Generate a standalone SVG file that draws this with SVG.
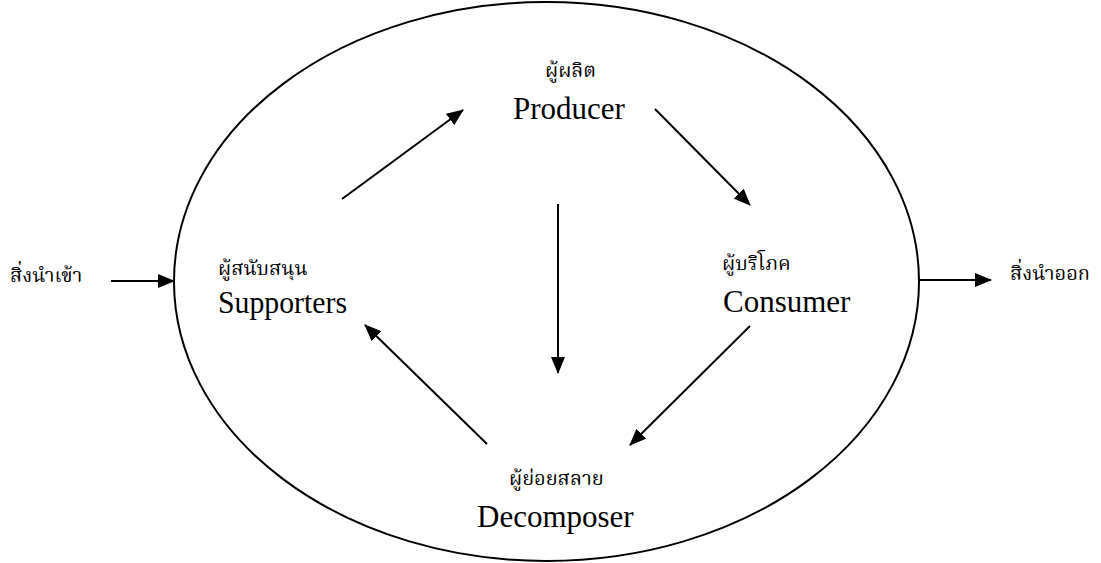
<svg xmlns="http://www.w3.org/2000/svg" width="1101" height="563" viewBox="0 0 1101 563">
<defs>
<marker id="ah" markerWidth="17" markerHeight="14" refX="16" refY="7" orient="auto" markerUnits="userSpaceOnUse">
<path d="M0,0 L17,7 L0,14 Z" fill="#000"/>
</marker>
<style>
.en{font-family:"Liberation Serif","Times New Roman",serif;font-size:31px;fill:#000}
.th{font-family:"Liberation Serif","Noto Serif Thai","Noto Sans Thai",serif;font-size:20px;fill:#000}
.ln{stroke:#000;stroke-width:2;fill:none;marker-end:url(#ah)}
</style>
</defs>
<rect width="1101" height="563" fill="#fff"/>
<g id="system">
<ellipse cx="546.5" cy="281.5" rx="372.5" ry="279.5" fill="none" stroke="#000" stroke-width="2"/>
</g>
<g id="producer">
<text class="th" x="545" y="77">ผู้ผลิต</text>
<text class="en" x="513" y="119">Producer</text>
</g>
<g id="supporters">
<text class="th" x="218" y="275">ผู้สนับสนุน</text>
<text class="en" x="218" y="313" textLength="129" lengthAdjust="spacingAndGlyphs">Supporters</text>
</g>
<g id="consumer">
<text class="th" x="722" y="270">ผู้บริโภค</text>
<text class="en" x="723" y="312">Consumer</text>
</g>
<g id="decomposer">
<text class="th" x="509" y="485">ผู้ย่อยสลาย</text>
<text class="en" x="477" y="527">Decomposer</text>
</g>
<g id="input">
<text class="th" x="10" y="282">สิ่งนำเข้า</text>
</g>
<g id="output">
<text class="th" x="1010" y="280">สิ่งนำออก</text>
</g>
<g id="connectors">
<line class="ln" x1="111" y1="281" x2="174" y2="281"/>
<line class="ln" x1="919" y1="280" x2="991" y2="280"/>
<line class="ln" x1="342" y1="199" x2="463" y2="110"/>
<line class="ln" x1="655" y1="109" x2="750" y2="205"/>
<line class="ln" x1="558" y1="204" x2="558" y2="373"/>
<line class="ln" x1="750" y1="326" x2="630" y2="445"/>
<line class="ln" x1="487" y1="444" x2="365" y2="325"/>
</g>
</svg>
